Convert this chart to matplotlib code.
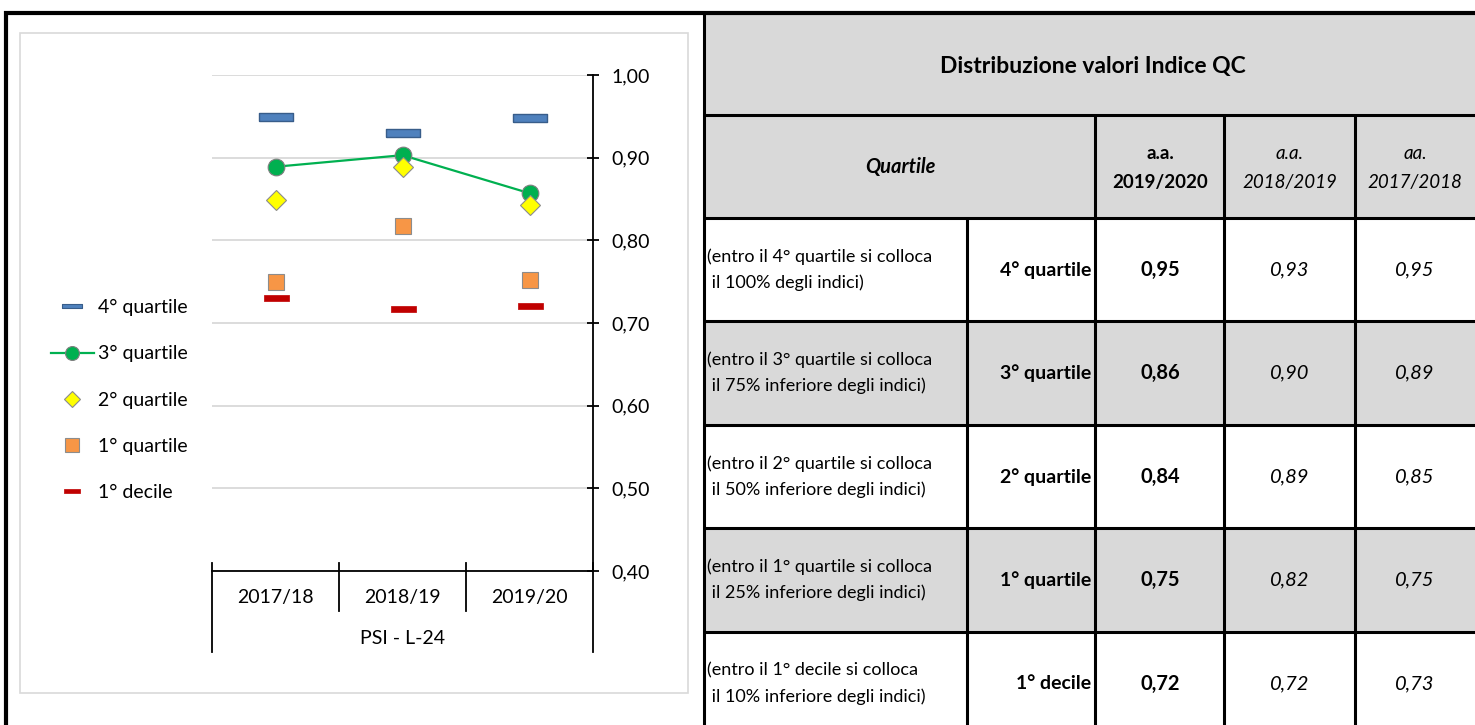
import matplotlib
matplotlib.use("Agg")
import matplotlib.pyplot as plt
import matplotlib.transforms as mtransforms
from matplotlib.patches import Rectangle
from matplotlib.lines import Line2D

plt.rcParams["font.family"] = ["Lato", "DejaVu Sans"]

# ------------------------------------------------------------
# Dati
# ------------------------------------------------------------
years = ["2017/18", "2018/19", "2019/20"]
group_label = "PSI - L-24"

q4 = [0.949, 0.930, 0.948]   # 4° quartile
q3 = [0.889, 0.903, 0.857]   # 3° quartile
q2 = [0.849, 0.889, 0.843]   # 2° quartile
q1 = [0.749, 0.817, 0.752]   # 1° quartile
d1 = [0.730, 0.717, 0.720]   # 1° decile

y_ticks = [0.4, 0.5, 0.6, 0.7, 0.8, 0.9, 1.0]

table_title = "Distribuzione valori Indice QC"
col_heads = [("a.a.", "2019/2020"), ("a.a.", "2018/2019"), ("aa.", "2017/2018")]
row_labels = ["4° quartile", "3° quartile", "2° quartile", "1° quartile", "1° decile"]
row_desc = [
    ("(entro il 4° quartile si colloca", " il 100% degli indici)"),
    ("(entro il 3° quartile si colloca", " il 75% inferiore degli indici)"),
    ("(entro il 2° quartile si colloca", " il 50% inferiore degli indici)"),
    ("(entro il 1° quartile si colloca", " il 25% inferiore degli indici)"),
    ("(entro il 1° decile si colloca", " il 10% inferiore degli indici)"),
]

# ------------------------------------------------------------
# Figura e sfondo in pixel
# ------------------------------------------------------------
W, H = 1475, 725
fig = plt.figure(figsize=(W / 100, H / 100), dpi=100)

bg = fig.add_axes([0, 0, 1, 1])
bg.set_xlim(0, W)
bg.set_ylim(H, 0)
bg.axis("off")

# cornice nera esterna
bg.plot([4, W], [13, 13], color="black", lw=3, solid_capstyle="butt")
bg.plot([6, 6], [11, H], color="black", lw=3, solid_capstyle="butt")

# cornice grafico
bg.add_patch(Rectangle((20, 33), 668, 660, fill=False, ec="#d9d9d9", lw=1.2))

# ------------------------------------------------------------
# Tabella
# ------------------------------------------------------------
gray = "#d9d9d9"
row_tops = [218, 321, 425, 528, 632]
row_h = 103.5
bg.add_patch(Rectangle((704, 13), W - 704, 205, fc=gray, ec="none"))
for i, top in enumerate(row_tops):
    if i % 2 == 1:
        bg.add_patch(Rectangle((704, top), W - 704, row_h, fc=gray, ec="none"))

lw_t = 2.2
for y in [115] + row_tops:
    bg.plot([704, W], [y, y], color="black", lw=lw_t, solid_capstyle="butt")
bg.plot([704, 704], [13, H], color="black", lw=lw_t, solid_capstyle="butt")
bg.plot([967, 967], [218, H], color="black", lw=lw_t, solid_capstyle="butt")
for x in [1095, 1224, 1355]:
    bg.plot([x, x], [115, H], color="black", lw=lw_t, solid_capstyle="butt")

bg.text(1093, 66, table_title, ha="center", va="center", fontsize=16.5, fontweight="bold")
bg.text(900, 167, "Quartile", ha="center", va="center", fontsize=14.5,
        fontweight="bold", fontstyle="italic")

col_x = [1160, 1290, 1415]
for j, (a, b) in enumerate(col_heads):
    style = dict(fontweight="bold") if j == 0 else dict(fontstyle="italic")
    bg.text(col_x[j], 153, a, ha="center", va="center", fontsize=13.5, **style)
    bg.text(col_x[j], 182, b, ha="center", va="center", fontsize=13.5, **style)

series_desc = [q4, q3, q2, q1, d1]
for i, top in enumerate(row_tops):
    cy = top + row_h / 2
    bg.text(707, cy - 13, row_desc[i][0], ha="left", va="center", fontsize=13)
    bg.text(707, cy + 13, row_desc[i][1], ha="left", va="center", fontsize=13)
    bg.text(1091, cy, row_labels[i], ha="right", va="center", fontsize=14, fontweight="bold")
    vals = series_desc[i][::-1]
    for j, v in enumerate(vals):
        txt = f"{v:.2f}".replace(".", ",")
        style = dict(fontweight="bold") if j == 0 else dict(fontstyle="italic")
        bg.text(col_x[j], cy, txt, ha="center", va="center", fontsize=14.5, **style)

# ------------------------------------------------------------
# Grafico
# ------------------------------------------------------------
ax = fig.add_axes([212 / W, 1 - 571 / H, 381 / W, 496 / H])
x = list(range(len(years)))

bar_mark = [(-1, -0.24), (1, -0.24), (1, 0.24), (-1, 0.24), (-1, -0.24)]

ax.plot(x, q4, ls="none", marker=bar_mark, ms=24, mfc="#4f81bd", mec="#385d8a", mew=1, zorder=3)
ax.plot(x, q3, color="#00b050", lw=1.6, marker="o", ms=12, mfc="#00b050", mec="#7f7f7f",
        mew=0.8, zorder=4)
ax.plot(x, q2, ls="none", marker="D", ms=10, mfc="#ffff00", mec="#8c8c8c", mew=0.8, zorder=5)
ax.plot(x, q1, ls="none", marker="s", ms=12, mfc="#f79646", mec="#8c8c8c", mew=0.8, zorder=3)
ax.plot(x, d1, ls="none", marker=bar_mark, ms=18, mfc="#c00000", mec="#c00000", mew=0.5, zorder=3)

ax.set_xlim(-0.5, len(years) - 0.5)
ax.set_ylim(0.4, 1.0)
ax.set_yticks(y_ticks)
ax.set_yticklabels([f"{v:.2f}".replace(".", ",") for v in y_ticks], fontsize=14)
ax.yaxis.tick_right()
ax.tick_params(axis="y", direction="inout", length=9, width=1.3, pad=9)
ax.set_xticks([])
ax.yaxis.grid(True, color="#d9d9d9", lw=1.3)
ax.set_axisbelow(True)

for s in ["left", "top"]:
    ax.spines[s].set_visible(False)
for s in ["right", "bottom"]:
    ax.spines[s].set_color("black")
    ax.spines[s].set_linewidth(1.3)

# separatori categorie e etichette asse x
trans = mtransforms.blended_transform_factory(ax.transData, ax.transAxes)
ax_h = 496
n = len(years)
for k in range(n + 1):
    b = k - 0.5
    low = -81 / ax_h if k in (0, n) else -40 / ax_h
    ax.plot([b, b], [8 / ax_h, low], color="black", lw=1.3, transform=trans, clip_on=False)
for k, lab in enumerate(years):
    ax.text(k, -27 / ax_h, lab, transform=trans, ha="center", va="center", fontsize=14)
ax.text((n - 1) / 2, -68 / ax_h, group_label, transform=trans, ha="center", va="center",
        fontsize=14)

# legenda
handles = [
    Line2D([], [], ls="none", marker=bar_mark, ms=14, mfc="#4f81bd", mec="#385d8a", mew=0.8),
    Line2D([], [], color="#00b050", lw=1.6, marker="o", ms=10, mfc="#00b050", mec="#7f7f7f", mew=0.8),
    Line2D([], [], ls="none", marker="D", ms=8, mfc="#ffff00", mec="#8c8c8c", mew=0.8),
    Line2D([], [], ls="none", marker="s", ms=10, mfc="#f79646", mec="#8c8c8c", mew=0.8),
    Line2D([], [], ls="none", marker=bar_mark, ms=12, mfc="#c00000", mec="#c00000", mew=0.5),
]
fig.legend(handles, row_labels, loc="upper left", bbox_to_anchor=(51 / W, 1 - 299 / H),
           frameon=False, fontsize=14, handlelength=2.2, handletextpad=0.2,
           labelspacing=1.5, borderpad=0, borderaxespad=0)

fig.savefig("out.png", dpi=100)
